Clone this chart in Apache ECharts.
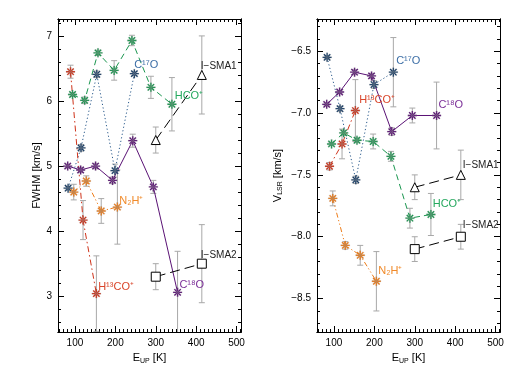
<!DOCTYPE html>
<html>
<head>
<meta charset="utf-8">
<script src="https://cdn.jsdelivr.net/npm/echarts@6/dist/echarts.min.js"></script>
<style>
  html, body { margin: 0; padding: 0; background: #fff; }
  #main { width: 518px; height: 370px; }
</style>
</head>
<body>
<div id="main"></div>
<script>
// E_up [K] of each transition
const eupC18O  = [82, 114, 151, 193, 243, 294, 354];
const eupC17O  = [83, 115, 154, 199, 247];
const eupH13CO = [89, 120, 153];
const eupN2H   = [97, 128, 165, 205];
const eupHCO   = [94, 124, 157, 197, 241, 288, 340];
const eupSMA   = [300, 414];

// FWHM [km/s] and errors
const fwhmC18O     = [5.00, 4.94, 5.00, 4.78, 5.39, 4.68, 3.06];
const fwhmC18OErr  = [0.03, 0.04, 0.04, 0.05, 0.10, 0.10, 0.63];
const fwhmC17O     = [4.66, 5.28, 6.41, 4.93, 6.42];
const fwhmC17OErr  = [0.03, 0.05, 0.05, 0.10, 0.03];
const fwhmH13CO    = [6.45, 4.17, 3.04];
const fwhmH13COErr = [0.10, 0.30, 0.58];
const fwhmN2H      = [4.60, 4.77, 4.31, 4.37];
const fwhmN2HErr   = [0.12, 0.08, 0.19, 0.57];
const fwhmHCO      = [6.10, 6.01, 6.74, 6.47, 6.93, 6.21, 5.95];
const fwhmHCOErr   = [0.03, 0.05, 0.04, 0.15, 0.08, 0.17, 0.41];
const fwhmSMA1     = [5.40, 6.40];
const fwhmSMA1Err  = [0.20, 0.60];
const fwhmSMA2     = [3.30, 3.50];
const fwhmSMA2Err  = [0.20, 0.60];

// V_LSR [km/s] and errors
const vlsrC18O     = [-6.93, -6.83, -6.67, -6.70, -7.15, -7.02, -7.02];
const vlsrC18OErr  = [0.01, 0.01, 0.02, 0.02, 0.03, 0.06, 0.27];
const vlsrC17O     = [-6.55, -6.965, -7.54, -6.77, -6.67];
const vlsrC17OErr  = [0.01, 0.02, 0.03, 0.03, 0.28];
const vlsrH13CO    = [-7.43, -7.25, -6.98];
const vlsrH13COErr = [0.03, 0.12, 0.25];
const vlsrN2H      = [-7.69, -8.07, -8.15, -8.36];
const vlsrN2HErr   = [0.06, 0.03, 0.08, 0.24];
const vlsrHCO      = [-7.25, -7.16, -7.22, -7.23, -7.35, -7.85, -7.82];
const vlsrHCOErr   = [0.01, 0.02, 0.02, 0.06, 0.04, 0.08, 0.17];
const vlsrSMA1     = [-7.60, -7.50];
const vlsrSMA1Err  = [0.10, 0.20];
const vlsrSMA2     = [-8.10, -8.00];
const vlsrSMA2Err  = [0.10, 0.10];

// tick labels
const xTicks    = [100, 200, 300, 400, 500];
const fwhmTicks = [3, 4, 5, 6, 7];
const vlsrTicks = [-8.5, -8.0, -7.5, -7.0, -6.5];

const xMin = 58, xMax = 511;
const fwhmMin = 2.45, fwhmMax = 7.26;
const vlsrMin = -8.77, vlsrMax = -6.24;

const FONT = 'Liberation Sans, Arial, Helvetica, sans-serif';

// asterisk marker (4 crossed bars)
function asteriskPath() {
  const L = 10, w = 1.5;
  let d = '';
  [0, 45, 90, 135].forEach(function (a) {
    const r = a * Math.PI / 180, c = Math.cos(r), s = Math.sin(r);
    const nx = -s * w, ny = c * w;
    const p = [
      [-L * c + nx, -L * s + ny], [L * c + nx, L * s + ny],
      [L * c - nx, L * s - ny], [-L * c - nx, -L * s - ny]
    ];
    d += 'M' + p.map(q => q[0].toFixed(2) + ' ' + q[1].toFixed(2)).join(' L') + ' Z ';
  });
  return 'path://' + d;
}
const STAR = asteriskPath();

// species styles; label = which point carries the name, offsets per panel
const species = [
  { key: 'C18O', text: 'C¹⁸O', color: '#5a1275', labelColor: '#7b2f98', line: 'solid',
    x: eupC18O, fwhm: fwhmC18O, fwhmErr: fwhmC18OErr, vlsr: vlsrC18O, vlsrErr: vlsrC18OErr,
    labelIdx: 6, off: [[-8, -7], [-8, -11]] },
  { key: 'C17O', text: 'C¹⁷O', color: '#163c66', lineColor: '#2a5a8c', labelColor: '#3c6ea6', line: [1.2, 2.4],
    x: eupC17O, fwhm: fwhmC17O, fwhmErr: fwhmC17OErr, vlsr: vlsrC17O, vlsrErr: vlsrC17OErr,
    labelIdx: 4, off: [[-10, -9], [-7, -11]] },
  { key: 'H13CO', text: 'H¹³CO⁺', color: '#cf3219', labelColor: '#d9452a', line: [6, 3, 1.5, 3],
    x: eupH13CO, fwhm: fwhmH13CO, fwhmErr: fwhmH13COErr, vlsr: vlsrH13CO, vlsrErr: vlsrH13COErr,
    labelIdx: 2, off: [[-8, -7], [-6, -11]] },
  { key: 'N2H', text: 'N₂H⁺', color: '#ee7c18', labelColor: '#f08a2a', line: [5, 2.5, 1.2, 2.5, 1.2, 2.5],
    x: eupN2H, fwhm: fwhmN2H, fwhmErr: fwhmN2HErr, vlsr: vlsrN2H, vlsrErr: vlsrN2HErr,
    labelIdx: 3, off: [[-8, -6], [-8, -10]] },
  { key: 'HCO', text: 'HCO⁺', color: '#1a964f', labelColor: '#25a85e', line: [6, 4],
    x: eupHCO, fwhm: fwhmHCO, fwhmErr: fwhmHCOErr, vlsr: vlsrHCO, vlsrErr: vlsrHCOErr,
    labelIdx: 6, off: [[-7, -8], [-8, -11]] },
  { key: 'SMA1', text: 'I−SMA1', color: '#000', labelColor: '#222', line: [10, 5], symbol: 'triangle',
    x: eupSMA, fwhm: fwhmSMA1, fwhmErr: fwhmSMA1Err, vlsr: vlsrSMA1, vlsrErr: vlsrSMA1Err,
    labelIdx: 1, off: [[-11, -9], [-8, -10]] },
  { key: 'SMA2', text: 'I−SMA2', color: '#000', labelColor: '#222', line: [10, 5], symbol: 'rect',
    x: eupSMA, fwhm: fwhmSMA2, fwhmErr: fwhmSMA2Err, vlsr: vlsrSMA2, vlsrErr: vlsrSMA2Err,
    labelIdx: 1, off: [[-11, -8], [-8, -11]] }
];

function minorValues(lo, hi, step) {
  const out = [];
  for (let v = Math.ceil(lo / step - 1e-9) * step; v <= hi + 1e-9; v += step) out.push(+v.toFixed(4));
  return out;
}
const xMinor = minorValues(xMin, xMax, 10);
const fwhmMinor = minorValues(fwhmMin, fwhmMax, 0.2);
const vlsrMinor = minorValues(vlsrMin, vlsrMax, 0.1);

const tickStyle = { color: '#000', width: 1 };
const labelStyle = { color: '#000', fontSize: 10, fontFamily: FONT };

function xAxes(gi) {
  const base = { gridIndex: gi, type: 'value', min: xMin, max: xMax, splitLine: { show: false },
    axisLine: { onZero: false, lineStyle: { color: '#000', width: 1 } } };
  return [
    Object.assign({}, base, { position: 'bottom',
      axisTick: { inside: true, length: 6, customValues: xTicks, lineStyle: tickStyle },
      axisLabel: Object.assign({ customValues: xTicks, margin: 6 }, labelStyle),
      name: '{a|E}{s|UP}{a| [K]}', nameLocation: 'middle', nameGap: 19,
      nameTextStyle: { fontFamily: FONT, rich: {
        a: { fontSize: 11, fontFamily: FONT, color: '#000', lineHeight: 13 },
        s: { fontSize: 7, fontFamily: FONT, color: '#000', verticalAlign: 'bottom', lineHeight: 10 } } } }),
    Object.assign({}, base, { position: 'bottom',
      axisTick: { inside: true, length: 3, customValues: xMinor, lineStyle: tickStyle }, axisLabel: { show: false } }),
    Object.assign({}, base, { position: 'top',
      axisTick: { inside: true, length: 6, customValues: xTicks, lineStyle: tickStyle }, axisLabel: { show: false } }),
    Object.assign({}, base, { position: 'top',
      axisTick: { inside: true, length: 3, customValues: xMinor, lineStyle: tickStyle }, axisLabel: { show: false } })
  ];
}

function yAxes(gi, min, max, ticks, minor, fmt, name, gap) {
  const base = { gridIndex: gi, type: 'value', min: min, max: max, splitLine: { show: false },
    axisLine: { onZero: false, lineStyle: { color: '#000', width: 1 } } };
  return [
    Object.assign({}, base, { position: 'left',
      axisTick: { inside: true, length: 6, customValues: ticks, lineStyle: tickStyle },
      axisLabel: Object.assign({ customValues: ticks, margin: 6, formatter: fmt }, labelStyle),
      name: name, nameLocation: 'middle', nameGap: gap, nameRotate: 90,
      nameTextStyle: { fontFamily: FONT, fontSize: 11, color: '#000', rich: {
        a: { fontSize: 11, fontFamily: FONT, color: '#000', lineHeight: 13 },
        s: { fontSize: 7, fontFamily: FONT, color: '#000', verticalAlign: 'bottom', lineHeight: 10 } } } }),
    Object.assign({}, base, { position: 'left',
      axisTick: { inside: true, length: 3, customValues: minor, lineStyle: tickStyle }, axisLabel: { show: false } }),
    Object.assign({}, base, { position: 'right',
      axisTick: { inside: true, length: 6, customValues: ticks, lineStyle: tickStyle }, axisLabel: { show: false } }),
    Object.assign({}, base, { position: 'right',
      axisTick: { inside: true, length: 3, customValues: minor, lineStyle: tickStyle }, axisLabel: { show: false } })
  ];
}

// error bars drawn through the axes' own scale
function errSeries(xs, ys, errs, gi) {
  return {
    type: 'custom', xAxisIndex: gi * 4, yAxisIndex: gi * 4, clip: true, silent: true, z: 1,
    data: xs.map((x, i) => [x, ys[i] - errs[i], ys[i] + errs[i]]),
    renderItem: function (params, api) {
      const lo = api.coord([api.value(0), api.value(1)]);
      const hi = api.coord([api.value(0), api.value(2)]);
      const w = 3;
      const st = { stroke: '#a8a8a8', lineWidth: 1 };
      return { type: 'group', children: [
        { type: 'line', shape: { x1: lo[0], y1: lo[1], x2: hi[0], y2: hi[1] }, style: st },
        { type: 'line', shape: { x1: lo[0] - w, y1: lo[1], x2: lo[0] + w, y2: lo[1] }, style: st },
        { type: 'line', shape: { x1: hi[0] - w, y1: hi[1], x2: hi[0] + w, y2: hi[1] }, style: st }
      ] };
    }
  };
}

function lineSeries(sp, gi, ys) {
  const hollow = !!sp.symbol;
  const data = sp.x.map(function (x, i) {
    const item = { value: [x, ys[i]] };
    if (i === sp.labelIdx) {
      item.label = { show: true, formatter: sp.text, position: 'right', offset: sp.off[gi],
        color: sp.labelColor, fontSize: hollow ? 10 : 11, fontFamily: FONT };
    }
    return item;
  });
  return {
    type: 'line', name: sp.key, xAxisIndex: gi * 4, yAxisIndex: gi * 4, z: 3,
    data: data, symbol: hollow ? sp.symbol : STAR, symbolSize: 9,
    symbolKeepAspect: true, showSymbol: true, showAllSymbol: true,
    lineStyle: { color: sp.lineColor || sp.color, width: 1, type: sp.line },
    itemStyle: hollow ? { color: '#fff', borderColor: '#000', borderWidth: 1 }
                      : { color: sp.color, borderColor: 'rgba(150,150,150,0.35)', borderWidth: 0.6 },
    emphasis: { disabled: true }, animation: false
  };
}

const series = [];
species.forEach(sp => series.push(errSeries(sp.x, sp.fwhm, sp.fwhmErr, 0)));
species.forEach(sp => series.push(errSeries(sp.x, sp.vlsr, sp.vlsrErr, 1)));
species.forEach(sp => series.push(lineSeries(sp, 0, sp.fwhm)));
species.forEach(sp => series.push(lineSeries(sp, 1, sp.vlsr)));

const chart = echarts.init(document.getElementById('main'), null, { renderer: 'canvas' });
chart.setOption({
  backgroundColor: '#fff',
  animation: false,
  textStyle: { fontFamily: FONT },
  grid: [
    { left: 58, top: 19, width: 183, height: 313 },
    { left: 317, top: 19, width: 183, height: 313 }
  ],
  xAxis: xAxes(0).concat(xAxes(1)),
  yAxis: yAxes(0, fwhmMin, fwhmMax, fwhmTicks, fwhmMinor, v => String(v), 'FWHM [km/s]', 16)
    .concat(yAxes(1, vlsrMin, vlsrMax, vlsrTicks, vlsrMinor, v => v.toFixed(1).replace('-', '−'),
      '{a|V}{s|LSR}{a| [km/s]}', 33)),
  series: series
});
window.addEventListener('resize', () => chart.resize());
</script>
</body>
</html>
